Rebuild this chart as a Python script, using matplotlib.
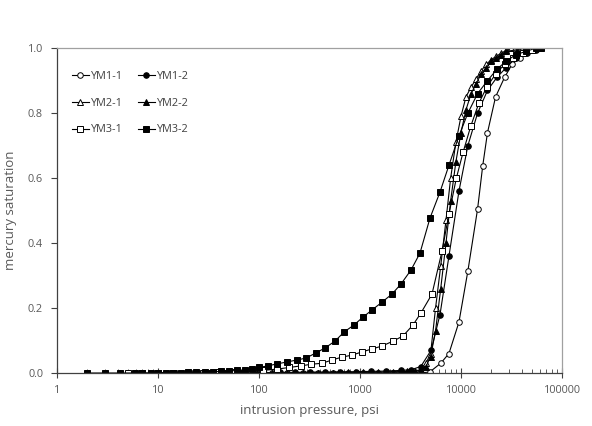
import numpy as np
import matplotlib
matplotlib.use("Agg")
import matplotlib.pyplot as plt
from matplotlib.ticker import LogLocator, FixedLocator

# ---- data (pressure in psi, saturation fraction) ----
p_ym3_2 = [2, 3, 4.2, 5.9, 7, 8.5, 10, 12, 14, 17, 20, 24, 29, 35, 42, 50, 60,
           72, 86, 100, 122, 151, 189, 238, 292, 367, 450, 565, 695, 873, 1071,
           1315, 1651, 2074, 2547, 3199, 3925, 4933, 6196, 7607, 9550, 11700,
           14600, 18300, 22700, 28000, 35000, 44000, 55000, 62000]
s_ym3_2 = [0, 0, 0, 0, 0, 0, 0, 0, 0.001, 0.001, 0.002, 0.002, 0.003, 0.004,
           0.005, 0.006, 0.008, 0.010, 0.013, 0.017, 0.022, 0.028, 0.034, 0.040,
           0.046, 0.062, 0.077, 0.098, 0.126, 0.148, 0.172, 0.194, 0.218, 0.243,
           0.274, 0.317, 0.369, 0.477, 0.557, 0.64, 0.73, 0.80, 0.86, 0.90,
           0.935, 0.96, 0.98, 0.99, 1.0, 1.0]

p_ym3_1 = [5, 7, 10, 14, 20, 28, 40, 56, 80, 110, 150, 200, 260, 330, 421, 528,
           663, 834, 1047, 1315, 1651, 2122, 2667, 3350, 4017, 5164, 6486, 7607,
           9000, 10500, 12500, 15000, 18000, 22000, 27000, 33000, 41000, 50000,
           60000]
s_ym3_1 = [0, 0, 0, 0, 0, 0.001, 0.002, 0.003, 0.005, 0.008, 0.012, 0.017,
           0.022, 0.027, 0.030, 0.040, 0.049, 0.055, 0.065, 0.074, 0.083, 0.098,
           0.114, 0.148, 0.185, 0.243, 0.375, 0.49, 0.60, 0.68, 0.76, 0.83,
           0.88, 0.92, 0.95, 0.97, 0.985, 0.995, 1.0]

p_ym1_1 = [10, 15, 22, 32, 46, 66, 95, 135, 190, 270, 380, 540, 760, 1070,
           1500, 2100, 2900, 3900, 4900, 6300, 7600, 9550, 11700, 14600, 16400,
           18300, 22000, 27000, 32000, 38000, 45000, 53000, 62000]
s_ym1_1 = [0, 0, 0, 0, 0, 0, 0, 0, 0, 0, 0, 0, 0, 0, 0, 0, 0, 0, 0.003, 0.03,
           0.06, 0.157, 0.314, 0.505, 0.637, 0.74, 0.85, 0.91, 0.95, 0.97,
           0.985, 0.995, 1.0]

p_ym1_2 = [10, 14, 20, 28, 40, 56, 80, 113, 160, 226, 320, 452, 640, 905, 1280,
           1810, 2560, 3200, 4000, 5060, 6200, 7600, 9550, 11700, 14600, 18300,
           22700, 28000, 35000, 44000, 55000, 62000]
s_ym1_2 = [0, 0, 0, 0, 0, 0, 0.001, 0.001, 0.002, 0.002, 0.003, 0.003, 0.004,
           0.004, 0.005, 0.006, 0.008, 0.01, 0.02, 0.07, 0.18, 0.36, 0.56, 0.70,
           0.80, 0.87, 0.91, 0.94, 0.97, 0.985, 0.995, 1.0]

p_ym2_1 = [10, 15, 22, 32, 46, 66, 95, 135, 190, 270, 380, 540, 760, 1070,
           1500, 2100, 2900, 3500, 4000, 4500, 5000, 5600, 6300, 7100, 7900,
           8900, 10000, 11200, 12600, 14100, 15800, 17800, 20000, 22400, 25100,
           28200, 31600, 39800, 50100, 60000]
s_ym2_1 = [0, 0, 0, 0, 0, 0, 0, 0, 0, 0, 0, 0, 0, 0, 0, 0, 0.002, 0.004, 0.01,
           0.03, 0.06, 0.2, 0.33, 0.47, 0.6, 0.71, 0.79, 0.85, 0.88, 0.905,
           0.93, 0.95, 0.965, 0.975, 0.985, 0.993, 1.0, 1.0, 1.0, 1.0]

p_ym2_2 = [10, 15, 22, 32, 46, 66, 95, 135, 190, 270, 380, 540, 760, 1070,
           1500, 2100, 2900, 3500, 4000, 4500, 5000, 5600, 6300, 7100, 7900,
           8900, 10000, 11200, 12600, 14100, 15800, 17800, 20000, 22400, 25100,
           28200, 35500, 44700, 56200]
s_ym2_2 = [0, 0, 0, 0, 0, 0, 0, 0, 0, 0, 0.001, 0.001, 0.002, 0.002, 0.003,
           0.004, 0.005, 0.007, 0.01, 0.02, 0.05, 0.13, 0.26, 0.40, 0.53, 0.65,
           0.74, 0.81, 0.86, 0.89, 0.92, 0.94, 0.96, 0.97, 0.98, 0.99, 0.995,
           1.0, 1.0]

series = [
    ("YM1-1", p_ym1_1, s_ym1_1, "o", False),
    ("YM1-2", p_ym1_2, s_ym1_2, "o", True),
    ("YM2-1", p_ym2_1, s_ym2_1, "^", False),
    ("YM2-2", p_ym2_2, s_ym2_2, "^", True),
    ("YM3-1", p_ym3_1, s_ym3_1, "s", False),
    ("YM3-2", p_ym3_2, s_ym3_2, "s", True),
]

txt = "#595959"
plt.rcParams['font.family'] = ['Open Sans', 'DejaVu Sans']

fig = plt.figure(figsize=(5.92, 4.26), dpi=100)
ax = fig.add_axes([0.0963, 0.1244, 0.853, 0.7626])

handles = {}
for name, p, s, mk, filled in series:
    h, = ax.plot(p, s, color="black", lw=0.8, marker=mk, ms=4,
                 mfc="black" if filled else "white", mec="black", mew=0.7,
                 label=name)
    handles[name] = h

ax.set_xscale("log")
ax.set_xlim(1, 100000)
ax.set_ylim(0, 1.0)
ax.xaxis.set_major_locator(FixedLocator([1, 10, 100, 1000, 10000, 100000]))
ax.set_xticklabels(["1", "10", "100", "1000", "10000", "100000"])
ax.xaxis.set_minor_locator(LogLocator(base=10, subs=np.arange(2, 10)))
ax.xaxis.set_minor_formatter(plt.NullFormatter())
ax.set_yticks(np.arange(0, 1.01, 0.2))
ax.set_yticklabels(["%.1f" % v for v in np.arange(0, 1.01, 0.2)])

ax.tick_params(axis="x", which="major", direction="inout", length=7,
               width=0.8, color="#404040", labelsize=7.8, labelcolor=txt, pad=5)
ax.tick_params(axis="x", which="minor", direction="in", length=3,
               width=0.6, color="#404040")
ax.tick_params(axis="y", direction="out", length=4, width=0.8,
               color="#404040", labelsize=7.8, labelcolor=txt, pad=6)

for side in ["left", "bottom"]:
    ax.spines[side].set_color("#404040")
    ax.spines[side].set_linewidth(0.9)
for side in ["top", "right"]:
    ax.spines[side].set_color("#a0a0a0")
    ax.spines[side].set_linewidth(0.9)

ax.set_xlabel("intrusion pressure, psi", fontsize=9.5, color=txt, labelpad=6)
ax.set_ylabel("mercury saturation", fontsize=9.5, color=txt, labelpad=8)

# legend is filled column by column, so order it to read row-wise
order = ["YM1-1", "YM2-1", "YM3-1", "YM1-2", "YM2-2", "YM3-2"]
ax.legend([handles[n] for n in order], order, loc="upper left", ncol=2,
          frameon=False, fontsize=7.8, labelcolor="#404040", handlelength=1.6,
          handletextpad=0.2, columnspacing=1.3, labelspacing=1.45,
          bbox_to_anchor=(0.01, 0.96))

fig.savefig("out.png", dpi=100)
